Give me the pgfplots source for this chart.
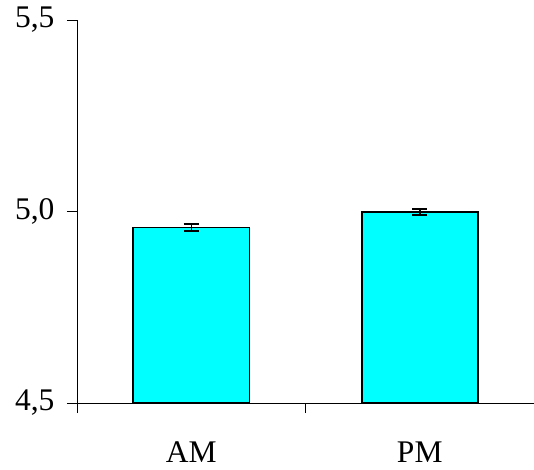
\documentclass[border=0pt]{standalone}
\usepackage{fontspec}
\setmainfont{Liberation Serif}
\usepackage{pgfplots}
\pgfplotsset{compat=1.18}
\begin{document}
\begin{tikzpicture}
\useasboundingbox (-77bp,-67bp) rectangle (457bp,403bp);
\begin{axis}[
  at={(0,0)}, anchor=south west,
  scale only axis, width=457bp, height=383bp,
  xmin=0, xmax=2, ymin=4.5, ymax=5.5,
  axis x line=bottom, axis y line=left,
  axis line style={-, line width=0.8bp, black},
  xtick={0,1,2},
  x tick label as interval,
  xticklabels={AM,PM},
  ytick={4.5,5,5.5},
  /pgf/number format/.cd, use comma, fixed, fixed zerofill, precision=1, assume math mode=true,
  /pgfplots/.cd,
  tick align=outside,
  major tick length=10bp,
  tick style={line width=0.8bp, black},
  tick label style={font=\fontsize{31.5bp}{33bp}\selectfont},
  xticklabel style={yshift=-25bp},
  yticklabel style={xshift=-9bp},
  clip=false,
]
\addplot[ybar, bar width=116bp, fill={rgb,255:red,0;green,255;blue,255}, draw=black, line width=1.5bp,
  error bars/.cd, y dir=both, y explicit,
  error bar style={line width=1.5bp, black},
  error mark options={rotate=90, mark size=7.5bp, line width=1.5bp, black}]
  coordinates {(0.5,4.958) +- (0,0.009) (1.5,4.999) +- (0,0.008)};
\end{axis}
\end{tikzpicture}
\end{document}
